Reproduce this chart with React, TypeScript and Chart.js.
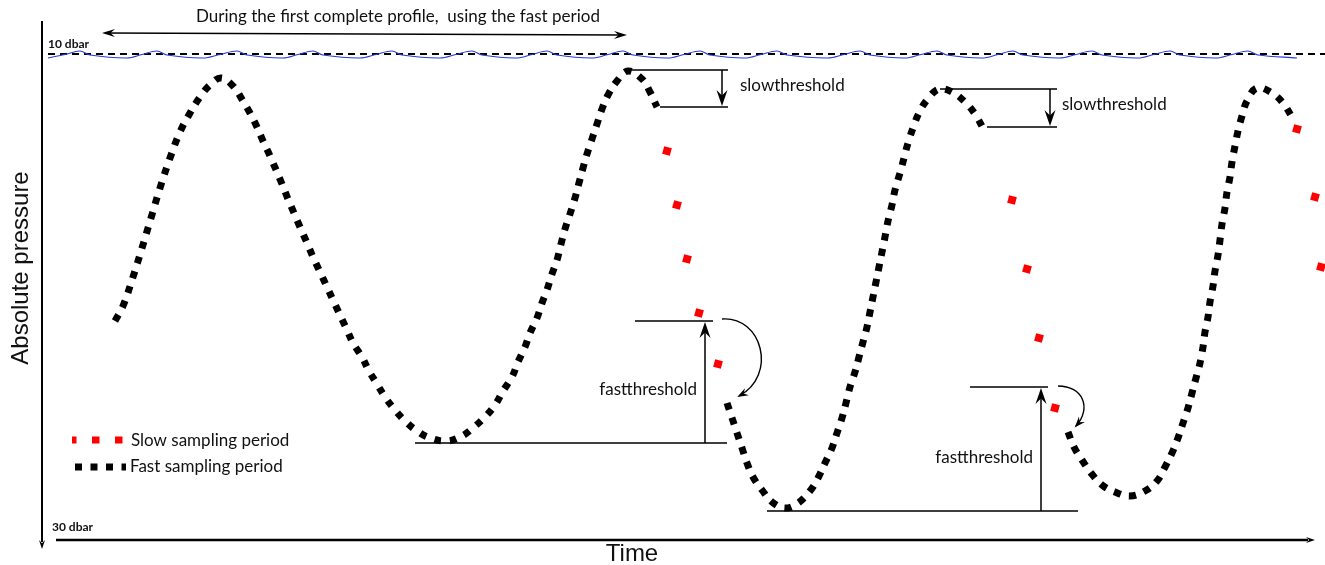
import React, { useEffect, useRef } from "react";
import { Chart, registerables } from "chart.js";

Chart.register(...registerables);

// ---- data (time units, pressure units) ----
const fastProfile1: number[][] = [
  [115, 321], [123, 306], [133, 277], [142, 248], [151, 218], [160, 188], [170, 158], [180, 132],
  [190, 113], [200, 97], [210, 85], [221, 78], [233, 86], [243, 101], [250, 113], [257, 127],
  [263, 141], [270, 156], [282, 184], [288, 199], [300, 227], [307, 243], [313, 257], [320, 272],
  [327, 287], [333, 300], [340, 315], [347, 330], [353, 343], [362, 357], [369, 371], [377, 384],
  [385, 397], [395, 410], [405, 421], [417, 431], [430, 438], [447, 441], [462, 436], [474, 427],
  [485, 417], [495, 405], [503, 391], [512, 377], [518, 362], [525, 347], [530, 333], [537, 318],
  [542, 303], [547, 290], [552, 274], [557, 260], [561, 244], [565, 229], [570, 214], [575, 198],
  [579, 183], [583, 168], [587, 154], [592, 139], [597, 124], [602, 109], [608, 95], [617, 81],
  [628, 71], [642, 79], [650, 92], [657, 107],
];
const fastProfile2: number[][] = [
  [727, 403], [732, 418], [737, 433], [742, 448], [747, 463], [753, 477], [762, 490], [772, 502],
  [785, 508], [798, 503], [810, 491], [818, 478], [825, 463], [832, 448], [837, 433], [842, 418],
  [846, 403], [850, 387], [855, 372], [859, 357], [863, 342], [867, 327], [870, 312], [873, 297],
  [876, 282], [879, 267], [882, 252], [885, 237], [888, 221], [892, 205], [895, 190], [900, 173],
  [904, 158], [908, 143], [913, 128], [919, 113], [927, 100], [939, 89], [952, 92], [965, 102],
  [975, 114], [983, 128],
];
const fastProfile3: number[][] = [
  [1068, 432], [1074, 447], [1082, 460], [1091, 473], [1102, 485], [1115, 492], [1130, 496],
  [1145, 491], [1157, 481], [1165, 467], [1172, 453], [1178, 438], [1183, 423], [1188, 408],
  [1192, 393], [1196, 378], [1200, 363], [1203, 347], [1205, 332], [1208, 317], [1210, 302],
  [1213, 286], [1215, 271], [1218, 255], [1220, 240], [1222, 224], [1225, 208], [1227, 192],
  [1230, 177], [1232, 162], [1235, 146], [1238, 131], [1242, 116], [1247, 101], [1257, 88],
  [1272, 93], [1283, 103], [1292, 117],
];
const slowSamples: number[][] = [
  [667, 151], [677, 205], [687, 259], [699, 313], [718, 364],
  [1012, 200], [1027, 269], [1039, 338], [1055, 408],
  [1297, 129], [1315, 197], [1321, 267],
];
const surfaceWave: number[][] = [
  [48, 58], [65, 54.5], [80, 51], [90, 55], [127, 58], [142, 54.5], [157, 51], [167, 55],
  [203, 58], [220, 54.5], [237, 51], [247, 55], [283, 58], [298, 54.5], [313, 51], [323, 55],
  [360, 58], [376, 54.5], [392, 51], [402, 55], [440, 58], [456, 54.5], [472, 51], [482, 55],
  [516, 58], [532, 54.5], [547, 51], [557, 55], [592, 58], [608, 54.5], [623, 51], [633, 55],
  [668, 58], [684, 54.5], [700, 51], [710, 55], [745, 58], [761, 54.5], [777, 51], [787, 55],
  [828, 58], [844, 54.5], [860, 51], [870, 55], [905, 58], [921, 54.5], [937, 51], [947, 55],
  [982, 58], [998, 54.5], [1013, 51], [1023, 55], [1060, 58], [1076, 54.5], [1092, 51], [1102, 55],
  [1138, 58], [1154, 54.5], [1170, 51], [1180, 55], [1216, 58], [1232, 54.5], [1248, 51], [1258, 55],
  [1297, 58],
];
const surfaceLevel: number[][] = [[48, 54], [1325, 54]];

// pressure reference labels
const pressureLabels = ["10 dbar", "30 dbar"];
const pressureLabelValues = [44, 527];

// thresholds
const slowThresholds: number[][] = [
  [630, 660, 70, 107, 722, 728],
  [940, 987, 89, 127, 1050, 1057],
];
const fastThresholds: number[][] = [
  [635, 415, 321, 443, 705, 713, 727],
  [970, 767, 387, 511, 1041, 1048, 1078],
];

const toXY = (arr: number[][]) => arr.map(([x, y]) => ({ x, y }));

const HUMAN = '"Lato", "Open Sans", sans-serif';

function arrowHead(ctx: CanvasRenderingContext2D, tx: number, ty: number, ang: number, len: number, wid: number) {
  const dx = Math.cos(ang), dy = Math.sin(ang);
  const px = -dy, py = dx;
  ctx.beginPath();
  ctx.moveTo(tx, ty);
  ctx.lineTo(tx - dx * len + px * wid / 2, ty - dy * len + py * wid / 2);
  ctx.lineTo(tx - dx * len * 0.65, ty - dy * len * 0.65);
  ctx.lineTo(tx - dx * len - px * wid / 2, ty - dy * len - py * wid / 2);
  ctx.closePath();
  ctx.fill();
}

const annotations = {
  id: "annotations",
  afterDatasetsDraw(chart: any) {
    const ctx: CanvasRenderingContext2D = chart.ctx;
    const xs = chart.scales.x, ys = chart.scales.y;
    const X = (v: number) => xs.getPixelForValue(v);
    const Y = (v: number) => ys.getPixelForValue(v);
    ctx.save();
    ctx.fillStyle = "#000";
    ctx.strokeStyle = "#000";

    // axes
    ctx.lineWidth = 2;
    ctx.beginPath();
    ctx.moveTo(X(42), Y(21));
    ctx.lineTo(X(42), Y(542));
    ctx.stroke();
    arrowHead(ctx, X(42), Y(549), Math.PI / 2, 9, 6);
    ctx.lineWidth = 2.5;
    ctx.beginPath();
    ctx.moveTo(X(56), Y(540));
    ctx.lineTo(X(1308), Y(540));
    ctx.stroke();
    arrowHead(ctx, X(1315), Y(540), 0, 9, 6);

    // top double arrow
    ctx.lineWidth = 1.5;
    ctx.beginPath();
    ctx.moveTo(X(106), Y(33));
    ctx.lineTo(X(622), Y(35));
    ctx.stroke();
    const a = Math.atan2(Y(35) - Y(33), X(627) - X(102));
    arrowHead(ctx, X(627), Y(35), a, 13, 8);
    arrowHead(ctx, X(102), Y(33), a + Math.PI, 13, 8);

    // slow thresholds
    ctx.lineWidth = 1.5;
    for (const [x0, x1, top, bot, ax, xe] of slowThresholds) {
      ctx.beginPath();
      ctx.moveTo(X(x0), Y(top)); ctx.lineTo(X(xe), Y(top));
      ctx.moveTo(X(x1), Y(bot)); ctx.lineTo(X(xe), Y(bot));
      ctx.moveTo(X(ax), Y(top)); ctx.lineTo(X(ax), Y(bot - 8));
      ctx.stroke();
      arrowHead(ctx, X(ax), Y(bot - 1), Math.PI / 2, 16, 11);
    }
    // fast thresholds
    for (const [x0, x1, top, bot, ax, xeTop, xeBot] of fastThresholds) {
      ctx.beginPath();
      ctx.moveTo(X(x0), Y(top)); ctx.lineTo(X(xeTop), Y(top));
      ctx.moveTo(X(x1), Y(bot)); ctx.lineTo(X(xeBot), Y(bot));
      ctx.moveTo(X(ax), Y(bot)); ctx.lineTo(X(ax), Y(top + 8));
      ctx.stroke();
      arrowHead(ctx, X(ax), Y(top + 1), -Math.PI / 2, 16, 11);
    }

    // curved return arrows
    const curves: number[][] = [
      [722, 319, 762, 316, 778, 375, 739, 396],
      [1058, 386, 1083, 386, 1092, 408, 1076, 426],
    ];
    ctx.lineWidth = 1.4;
    for (const [x0, y0, c1x, c1y, c2x, c2y, x3, y3] of curves) {
      ctx.beginPath();
      ctx.moveTo(X(x0), Y(y0));
      ctx.bezierCurveTo(X(c1x), Y(c1y), X(c2x), Y(c2y), X(x3), Y(y3));
      ctx.stroke();
      const ang = Math.atan2(Y(y3) - Y(c2y), X(x3) - X(c2x));
      arrowHead(ctx, X(x3) + Math.cos(ang) * 2, Y(y3) + Math.sin(ang) * 2, ang, 11, 8);
    }

    // texts
    ctx.fillStyle = "#111";
    ctx.textBaseline = "middle";
    ctx.textAlign = "left";
    ctx.font = `17px ${HUMAN}`;
    ctx.fillText("During the first complete profile,  using the fast period", X(196), Y(17));
    ctx.fillText("slowthreshold", X(740), Y(86));
    ctx.fillText("slowthreshold", X(1062), Y(105));
    ctx.textAlign = "right";
    ctx.fillText("fastthreshold", X(697), Y(390));
    ctx.fillText("fastthreshold", X(1033), Y(458));
    ctx.textAlign = "left";
    ctx.fillText("Slow sampling period", X(131), Y(441));
    ctx.fillText("Fast sampling period", X(130), Y(467));

    ctx.font = `bold 12px ${HUMAN}`;
    ctx.fillText(pressureLabels[0], X(48), Y(pressureLabelValues[0]));
    ctx.fillText(pressureLabels[1], X(52), Y(pressureLabelValues[1]));

    ctx.font = '24px "Liberation Sans", Arial, sans-serif';
    ctx.textAlign = "center";
    ctx.textBaseline = "alphabetic";
    ctx.fillText("Time", X(632), Y(561));
    ctx.save();
    ctx.translate(X(28), Y(268));
    ctx.rotate(-Math.PI / 2);
    ctx.fillText("Absolute pressure", 0, 0);
    ctx.restore();

    // legend samples
    ctx.lineCap = "butt";
    ctx.lineWidth = 7;
    ctx.strokeStyle = "#ff0000";
    ctx.setLineDash([7.5, 15.5]);
    ctx.lineDashOffset = 3;
    ctx.beginPath();
    ctx.moveTo(X(72), Y(440)); ctx.lineTo(X(126), Y(440));
    ctx.stroke();
    ctx.strokeStyle = "#000";
    ctx.setLineDash([7, 8.5]);
    ctx.lineDashOffset = 0;
    ctx.beginPath();
    ctx.moveTo(X(75), Y(467)); ctx.lineTo(X(126), Y(467));
    ctx.stroke();
    ctx.setLineDash([]);

    ctx.restore();
  },
};

export default function App() {
  const ref = useRef<HTMLCanvasElement>(null);
  useEffect(() => {
    if (!ref.current) return;
    const fastStyle = {
      type: "line" as const,
      borderColor: "#000",
      borderWidth: 7,
      borderDash: [7, 8.5],
      borderCapStyle: "butt" as const,
      pointRadius: 0,
      tension: 0.4,
      fill: false,
    };
    const chart = new Chart(ref.current, {
      type: "line",
      data: {
        datasets: [
          {
            label: "surface",
            data: toXY(surfaceWave),
            borderColor: "#2a3ad6",
            borderWidth: 1.1,
            pointRadius: 0,
            tension: 0.35,
          },
          {
            label: "10 dbar",
            data: toXY(surfaceLevel),
            borderColor: "#000",
            borderWidth: 2,
            borderDash: [7, 5],
            pointRadius: 0,
          },
          { ...fastStyle, label: "Fast sampling period", data: toXY(fastProfile1) },
          { ...fastStyle, label: "Fast sampling period 2", data: toXY(fastProfile2) },
          { ...fastStyle, label: "Fast sampling period 3", data: toXY(fastProfile3) },
          {
            label: "Slow sampling period",
            data: toXY(slowSamples),
            showLine: false,
            pointStyle: "rect",
            pointRadius: 5.6,
            pointRotation: 15,
            pointBackgroundColor: "#ff0000",
            pointBorderWidth: 0,
            borderColor: "#ff0000",
          },
        ],
      },
      options: {
        animation: false,
        responsive: false,
        layout: { padding: 0, autoPadding: false },
        events: [],
        scales: {
          x: { type: "linear", min: 0, max: 1325, display: false },
          y: { type: "linear", min: 0, max: 565, reverse: true, display: false },
        },
        plugins: { legend: { display: false }, tooltip: { enabled: false } },
      },
      plugins: [annotations],
    } as any);
    return () => chart.destroy();
  }, []);
  return (
    <div style={{ position: "absolute", left: 0, top: 0, width: 1325, height: 565, background: "#fff" }}>
      <canvas ref={ref} width={1325} height={565} style={{ display: "block", width: 1325, height: 565 }} />
    </div>
  );
}
